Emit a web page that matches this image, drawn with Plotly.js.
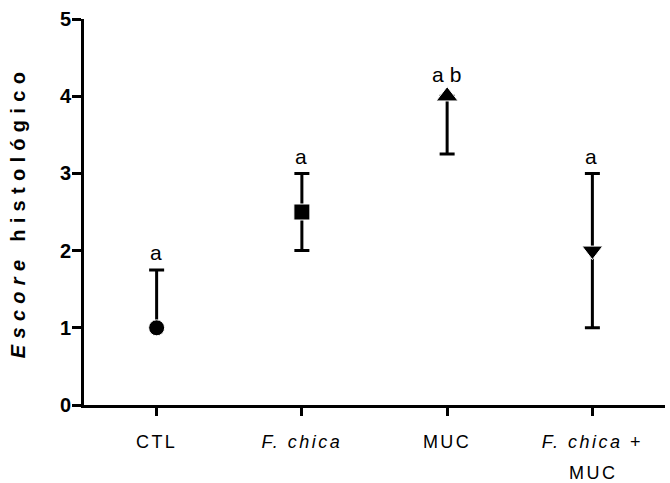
<!DOCTYPE html>
<html>
<head>
<meta charset="utf-8">
<script src="https://cdn.plot.ly/plotly-3.0.1.min.js"></script>
<style>
html,body{margin:0;padding:0;background:#fff;}
#chart{width:670px;height:483px;}
</style>
</head>
<body>
<div id="chart"></div>
<script>
// ---- data ----
var categories = ['CTL', 'F. chica', 'MUC', 'F. chica + MUC'];
var tickLine1 = ['CTL', '<i>F. chica</i>', 'MUC', '<i>F. chica</i> +'];
var tickLine2 = ['', '', '', 'MUC'];
var means = [1, 2.5, 4, 2];
var errPlus = [0.75, 0.5, 0, 1];
var errMinus = [0, 0.5, 0.75, 1];
var symbols = ['circle', 'square', 'triangle-up', 'triangle-down'];
var sigLetters = ['a', 'a', 'ab', 'a'];
var yTicks = [0, 1, 2, 3, 4, 5];

// ---- helpers ----
var FONT = 'Liberation Sans, Arial, Helvetica, sans-serif';
function spaced(t, px) { return '<span style="letter-spacing:' + px + 'px">' + t + '</span>'; }

var tops = means.map(function (m, i) { return m + errPlus[i]; });

var traces = [{
  type: 'scatter',
  mode: 'markers',
  x: categories,
  y: means,
  marker: { symbol: symbols, size: [16, 16, 19, 18], color: '#000', opacity: 1 },
  error_y: {
    type: 'data', symmetric: false,
    array: errPlus, arrayminus: errMinus,
    color: '#000', thickness: 3, width: 7.5
  },
  hoverinfo: 'skip',
  showlegend: false
}];

var annotations = [];
categories.forEach(function (c, i) {
  annotations.push({
    x: c, y: tops[i], xref: 'x', yref: 'y',
    text: spaced(sigLetters[i], 6),
    showarrow: false, yanchor: 'middle', yshift: errPlus[i] > 0 ? 17 : 22,
    xshift: 2,
    font: { family: FONT, size: 21, color: '#000' }
  });
  if (tickLine2[i]) {
    annotations.push({
      x: c, y: 0, xref: 'x', yref: 'paper',
      text: spaced(tickLine2[i], 2.5),
      showarrow: false, yanchor: 'middle', yshift: -68,
      xshift: 1,
      font: { family: FONT, size: 18, color: '#000' }
    });
  }
});

var layout = {
  width: 670, height: 483,
  margin: { l: 84, r: 5, t: 19, b: 78 },
  paper_bgcolor: '#fff', plot_bgcolor: '#fff',
  showlegend: false,
  xaxis: {
    type: 'category',
    range: [-0.5, 3.5],
    tickvals: categories,
    ticktext: tickLine1.map(function (t) { return spaced(t, 2.5); }),
    ticks: 'outside', ticklen: 8, tickwidth: 3, tickcolor: '#000',
    showline: true, linewidth: 3, linecolor: '#000',
    showgrid: false, zeroline: false,
    ticklabelstandoff: 10,
    tickfont: { family: FONT, size: 18, color: '#000' },
    fixedrange: true
  },
  yaxis: {
    range: [0, 5],
    tickvals: yTicks,
    ticktext: yTicks.map(function (v) { return '<b>' + v + '</b>'; }),
    ticks: 'outside', ticklen: 9, tickwidth: 3, tickcolor: '#000',
    showline: true, linewidth: 3, linecolor: '#000',
    showgrid: false, zeroline: false,
    ticklabelstandoff: -3,
    tickfont: { family: FONT, size: 20, color: '#000', weight: 'bold' },
    title: {
      text: '<b>' + spaced('<i>Escore</i> histológico', 6.3) + '</b>',
      font: { family: FONT, size: 20, color: '#000', weight: 'bold' },
      standoff: 29
    },
    fixedrange: true
  },
  annotations: annotations
};

Plotly.newPlot('chart', traces, layout, { displayModeBar: false, staticPlot: true });
</script>
</body>
</html>
